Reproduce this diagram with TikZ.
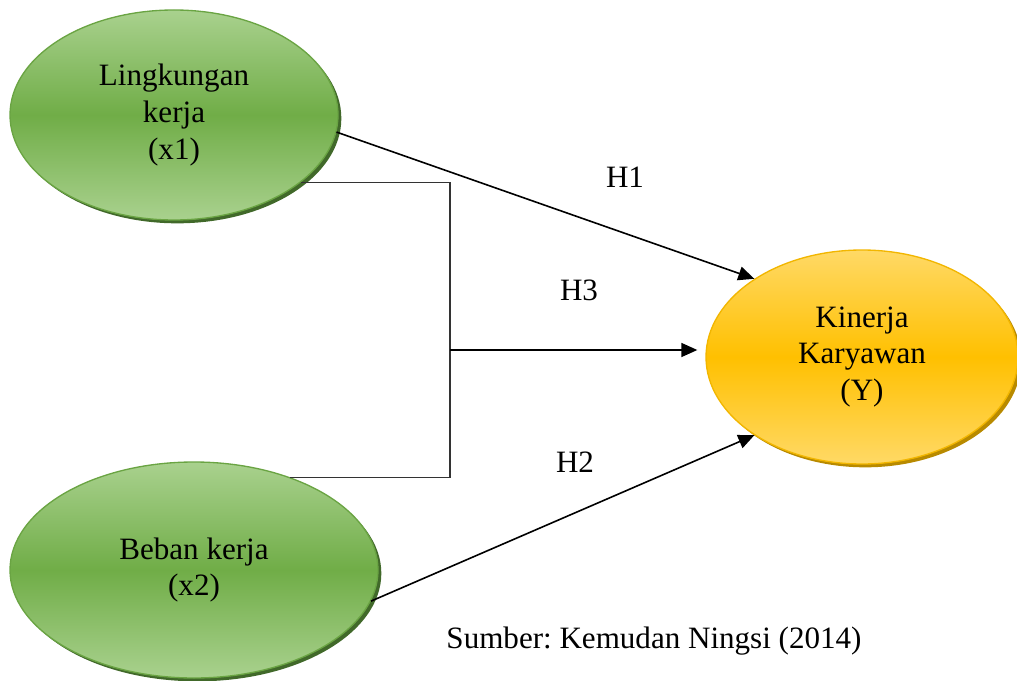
\documentclass[tikz,border=0pt]{standalone}
\usepackage{fontspec}
\setmainfont{Liberation Serif}
\usetikzlibrary{shapes.geometric, shadows, arrows.meta}
\definecolor{glight}{HTML}{A9D18E}
\definecolor{gdark}{HTML}{70AD47}
\definecolor{gshade}{HTML}{41692A}
\definecolor{ylight}{HTML}{FFD966}
\definecolor{ydark}{HTML}{FFC000}
\definecolor{yshade}{HTML}{B88A00}
\frenchspacing

\begin{document}
\begin{tikzpicture}[x=0.75pt, y=-0.75pt,
    every node/.style={font=\fontsize{23.3}{27.4}\selectfont},
    greenvar/.style={ellipse, align=center, inner sep=0pt, draw=gdark!95!black, line width=1pt,
        top color=glight, bottom color=glight, middle color=gdark,
        general shadow={fill=gshade, shadow xshift=2.5pt, shadow yshift=-2.5pt}},
    yellowvar/.style={ellipse, align=center, inner sep=0pt, draw=ydark!95!black, line width=1pt,
        top color=ylight, bottom color=ylight, middle color=ydark,
        general shadow={fill=yshade, shadow xshift=2.5pt, shadow yshift=-2.5pt}},
    link/.style={line width=1.2pt, -{Triangle[length=12pt, width=10.5pt]}},
    bracket/.style={line width=0.8pt, black!80}
]
    \useasboundingbox (0,0) rectangle (1017,681);

    \node[greenvar, minimum width=246pt, minimum height=157.5pt] (lk) at (174,115) {Lingkungan\\kerja\\(x1)};
    \node[greenvar, minimum width=276pt, minimum height=162pt] (bb) at (194,570) {Beban kerja\\(x2)};
    \node[yellowvar, minimum width=234pt, minimum height=160.5pt] (kk) at (862,357) {Kinerja\\Karyawan\\(Y)};
    \coordinate (jn) at (450,350);

    \draw[link] (lk.-6) -- (kk.144);
    \draw[bracket] (lk.-28) -| (jn) |- (bb.44);
    \draw[link, shorten >=6pt] (jn) -- (jn -| kk.west);
    \draw[link] (bb.-10) -- (kk.216);

    \node[anchor=base] (h1) at (625,187) {H1};
    \node[anchor=base] (h3) at (579,300) {H3};
    \node[anchor=base] (h2) at (575,472) {H2};
    \node[anchor=base] (src) at (654,648) {Sumber: Kemudan Ningsi (2014)};
\end{tikzpicture}
\end{document}
